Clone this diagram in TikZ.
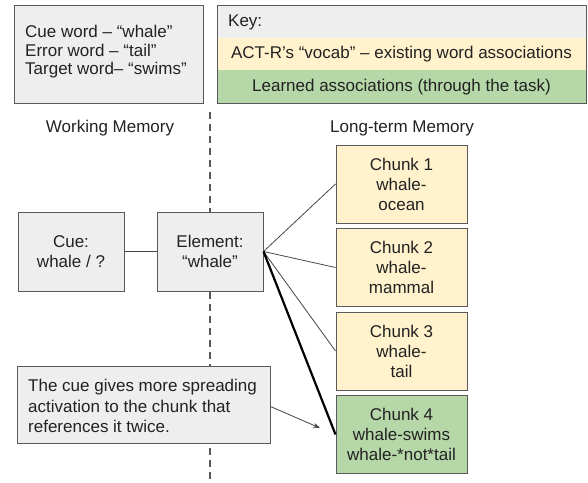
\documentclass[tikz,border=0pt]{standalone}
\usepackage{fontspec}
\setmainfont{Liberation Sans}
\usetikzlibrary{arrows.meta}
\definecolor{boxgray}{HTML}{EEEEEE}
\definecolor{boxyellow}{HTML}{FFF2CC}
\definecolor{boxgreen}{HTML}{B6D7A8}
\definecolor{edgegray}{HTML}{595959}
\definecolor{txt}{HTML}{222222}
\definecolor{linegray}{HTML}{444444}
\tikzset{
  every node/.style={text=txt, font=\fontsize{17}{20}\selectfont},
  graybox/.style={draw=edgegray, line width=1pt, fill=boxgray, minimum width=106pt, minimum height=79pt, align=center, inner sep=0pt},
  chunkbox/.style={draw=edgegray, line width=1pt, minimum width=131pt, minimum height=78pt, align=center, inner sep=0pt},
  thinlink/.style={draw=linegray, line width=0.8pt},
  thicklink/.style={draw=black, line width=2.2pt},
}
\begin{document}
\begin{tikzpicture}[x=1pt,y=-1pt]
\useasboundingbox (0,0) rectangle (588,482);
% dashed divider
\draw[edgegray, line width=1.2pt, dash pattern=on 7pt off 5pt] (210,112) -- (210,482);
% top-left box
\node[draw=edgegray, line width=1pt, fill=boxgray, minimum width=189pt, minimum height=98pt, inner sep=0pt] (words) at (108.5,54) {};
\node[anchor=west, align=left, inner sep=0pt, font=\fontsize{17}{18.5}\selectfont] (wordstext) at (25,52) {Cue word – “whale”\\Error word – “tail”\\Target word– “swims”};
% key
\fill[boxgray] (217,5) rectangle (586,38);
\fill[boxyellow] (217,38) rectangle (586,70);
\fill[boxgreen] (217,70) rectangle (586,103);
\node[draw=edgegray, line width=1pt, minimum width=369pt, minimum height=98pt, inner sep=0pt] (key) at (401.5,54) {};
\node[anchor=west, inner sep=0pt] (keylabel) at (228,22) {Key:};
\node[inner sep=0pt] (keyvocab) at (401.5,54) {ACT-R’s “vocab” – existing word associations};
\node[inner sep=0pt] (keylearned) at (401.5,87) {Learned associations (through the task)};
% headings
\node (wm) at (110,128) {Working Memory};
\node (ltm) at (402,128) {Long-term Memory};
% working memory boxes
\node[graybox] (cue) at (71,251.5) {Cue:\\whale / ?};
\node[graybox] (elem) at (210,251.5) {Element:\\“whale”};
% chunks
\node[chunkbox, fill=boxyellow] (c1) at (401.5,184) {Chunk 1\\whale-\\ocean};
\node[chunkbox, fill=boxyellow] (c2) at (401.5,267.5) {Chunk 2\\whale-\\mammal};
\node[chunkbox, fill=boxyellow] (c3) at (401.5,351) {Chunk 3\\whale-\\tail};
\node[chunkbox, fill=boxgreen] (c4) at (401.5,434.5) {Chunk 4\\whale-swims\\whale-*not*tail};
% note
\node[draw=edgegray, line width=1pt, fill=boxgray, minimum width=253pt, minimum height=77pt, inner sep=0pt] (note) at (143.5,404.5) {};
\node[anchor=west, align=left, inner sep=0pt, font=\fontsize{17}{20.5}\selectfont] (notetext) at (28,406) {The cue gives more spreading\\activation to the chunk that\\references it twice.};
% connectors
\draw[thinlink] (cue.east) -- (elem.west);
\draw[thinlink] (elem.east) -- (c1.west);
\draw[thinlink] (elem.east) -- (c2.west);
\draw[thinlink] (elem.east) -- (c3.west);
\draw[thicklink] (elem.east) -- (c4.west);
\coordinate (arrowend) at (320,428);
\draw[thinlink, -{Stealth[length=7pt,width=5pt]}] (note.east) ++(0,2) -- (arrowend);
\end{tikzpicture}
\end{document}
